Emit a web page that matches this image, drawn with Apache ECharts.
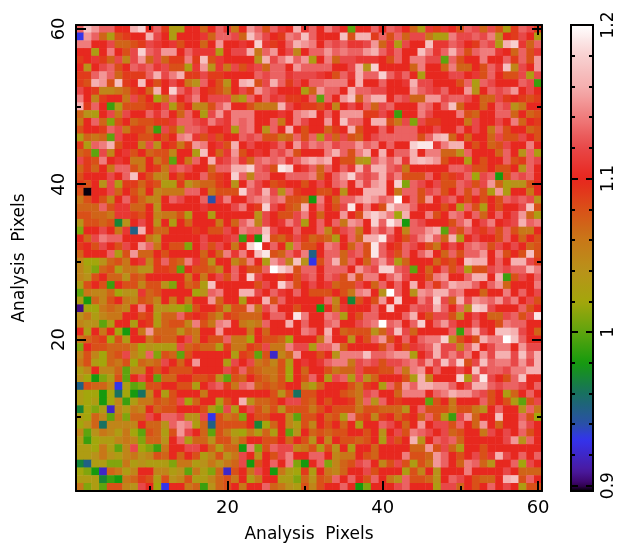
<!DOCTYPE html>
<html><head><meta charset="utf-8">
<style>html,body{margin:0;padding:0;background:#fff}#c{width:618px;height:546px}</style>
<script src="https://cdn.jsdelivr.net/npm/echarts@6/dist/echarts.min.js"></script>
</head><body><div id="c"></div>
<script>
const title = "Analysis  Pixels";
const barMin = 0.8965, barMax = 1.2;
const barLabels = [0.9, 1, 1.1, 1.2];
const barMinor = [0.92,0.94,0.96,0.98,1.02,1.04,1.06,1.08,1.12,1.14,1.16,1.18];
const stopValues = [0.8965,0.90,0.91,0.93,0.94,0.96,0.98,1.0,1.02,1.04,1.06,1.08,1.10,1.12,1.14,1.16,1.18,1.2];
const stopColors = [[0,0,0],[58,0,96],[74,26,160],[51,51,238],[42,80,168],[24,112,96],[22,154,14],[94,164,14],[164,166,12],[185,146,26],[200,120,24],[217,80,24],[232,38,30],[232,72,72],[239,124,124],[245,176,176],[248,208,208],[255,255,255]];
// rows run from pixel row 60 (top) to pixel row 1 (bottom); values are in hundredths
const rows = [
[113,117,115,113,113,110,110,116,118,110, 113,109,103,103,110,110,107,110,113,111, 106,110,115,113,108,113,111,110,116,111, 113,110,114,112,110,100,110,110,113,110, 113,112,110,107,103,111,109,111,110,108, 113,112,107,112,108,103,109,113,112,109],
[93,115,113,107,103,108,109,110,110,116, 112,110,103,110,110,110,111,107,113,113, 112,107,117,114,112,110,109,114,113,117, 113,110,110,110,117,108,116,116,109,113, 108,113,107,112,112,106,103,103,114,112, 112,113,112,114,104,110,109,112,110,103],
[114,114,110,110,112,107,107,108,109,112, 111,110,111,108,110,110,107,110,115,110, 110,111,110,118,111,109,110,113,116,115, 114,110,113,112,113,111,111,112,115,107, 111,103,112,110,110,117,111,111,113,112, 110,109,113,112,103,116,118,111,107,113],
[110,110,103,110,114,110,108,112,118,113, 112,115,115,110,113,111,111,111,103,110, 112,112,116,106,113,115,110,112,105,110, 113,113,115,113,114,113,113,115,116,113, 111,113,110,110,117,114,111,113,116,113, 108,113,114,114,111,110,107,113,108,111],
[109,110,111,109,107,112,105,112,115,107, 112,107,109,109,114,109,117,108,111,110, 110,110,110,104,116,112,114,116,113,115, 103,110,114,107,112,112,111,111,111,110, 108,113,110,114,114,112,112,100,113,108, 110,110,114,110,110,113,109,113,108,115],
[110,104,110,112,113,108,110,113,112,113, 111,112,108,108,103,111,115,104,111,106, 112,108,111,112,107,113,113,110,115,113, 113,113,113,110,110,112,116,104,118,110, 110,110,110,107,114,110,110,107,114,107, 107,110,108,113,111,117,105,112,110,115],
[109,109,113,115,113,107,109,109,109,113, 116,112,114,116,109,109,112,109,109,110, 110,110,110,113,112,113,113,111,112,112, 112,111,110,108,113,111,116,113,113,118, 113,111,113,110,103,110,110,110,112,112, 110,111,108,113,110,108,108,112,103,112],
[109,108,116,115,108,117,109,110,117,110, 108,110,112,110,106,104,113,110,108,104, 110,116,117,108,112,116,113,109,112,110, 113,113,114,114,114,110,116,110,110,113, 110,110,111,116,112,112,110,110,110,108, 113,103,113,112,110,110,110,113,112,99],
[112,110,109,105,105,106,107,109,110,107, 116,110,118,113,111,113,110,109,108,106, 110,112,109,115,113,112,110,110,110,103, 107,115,113,113,110,116,113,113,112,112, 110,110,110,115,113,112,111,113,110,110, 115,104,110,113,112,113,115,110,112,110],
[114,110,105,109,110,110,106,112,108,110, 102,106,113,110,112,114,110,112,112,112, 105,103,113,110,113,111,112,109,109,110, 113,100,113,110,115,117,107,114,116,116, 110,113,112,107,107,115,115,112,113,113, 112,110,107,107,112,109,110,109,108,109],
[116,109,113,110,99,103,108,108,108,109, 110,112,103,108,110,105,105,108,113,115, 110,110,108,106,106,106,116,112,110,109, 109,108,110,105,110,112,110,113,107,112, 113,110,110,110,114,113,110,113,117,107, 110,110,107,110,113,112,104,106,110,110],
[107,104,103,110,112,106,112,110,110,113, 111,113,110,107,113,110,103,112,115,111, 114,114,114,110,110,110,111,110,114,115, 116,110,113,110,115,115,115,109,109,112, 110,99,110,110,114,112,110,110,110,114, 108,107,110,110,113,113,107,110,107,108],
[106,110,113,107,101,108,110,107,108,108, 109,109,111,113,113,112,111,114,112,111, 114,113,114,110,110,113,106,110,114,112, 110,110,115,110,117,113,113,110,116,116, 108,106,112,101,112,109,109,110,110,110, 106,112,110,110,112,110,114,107,110,109],
[108,110,110,109,113,112,106,109,109,107, 99,112,108,104,113,113,112,110,110,111, 103,113,114,110,104,113,110,116,110,108, 110,110,107,109,110,116,108,110,110,113, 110,113,113,113,110,110,112,110,110,113, 110,112,110,106,113,108,110,110,107,108],
[103,107,106,107,100,112,110,110,108,108, 110,108,110,114,115,111,108,111,108,110, 110,113,112,113,108,108,106,107,113,108, 113,103,112,107,112,108,107,110,112,113, 113,113,113,113,108,113,116,117,107,110, 107,110,110,107,112,108,108,112,110,108],
[109,103,113,114,116,108,110,110,105,112, 104,110,109,106,109,115,114,110,111,108, 116,110,112,110,110,111,113,110,115,112, 114,113,114,112,113,113,115,113,114,110, 113,110,110,118,119,119,111,114,116,116, 110,108,110,107,108,112,110,110,114,110],
[107,108,100,112,105,110,111,108,110,107, 108,108,105,110,110,103,117,110,107,111, 115,108,110,111,110,113,112,114,108,110, 110,110,114,116,113,108,114,116,110,116, 110,113,113,116,110,114,114,107,107,104, 113,110,110,110,107,113,110,104,113,103],
[112,109,108,114,110,111,110,106,106,110, 106,108,100,110,106,113,110,116,111,112, 114,111,107,113,114,113,114,111,113,115, 116,115,116,110,108,108,104,103,113,115, 113,115,111,116,117,116,115,108,110,110, 103,110,108,110,110,113,108,109,113,112],
[107,109,107,110,106,113,113,108,106,110, 109,106,112,113,112,110,110,107,113,113, 116,116,118,113,112,108,119,118,110,111, 113,107,113,110,113,111,116,112,116,116, 113,112,106,110,110,110,110,110,113,113, 112,108,108,110,108,108,110,104,113,110],
[108,110,110,110,112,110,113,117,110,108, 105,105,110,108,110,110,113,108,109,110, 118,113,105,113,113,110,110,113,113,113, 114,107,110,113,115,118,113,112,113,116, 112,114,108,108,108,113,110,108,109,111, 113,102,112,113,98,108,113,112,113,110],
[109,108,110,104,112,103,109,109,107,109, 108,103,103,109,104,106,107,107,109,110, 104,110,114,112,110,108,109,110,110,108, 110,112,110,113,114,110,115,112,115,116, 110,118,101,113,112,110,112,108,108,113, 112,108,112,115,107,103,104,104,108,110],
[108,89.7,110,110,112,107,110,108,106,110, 105,106,106,106,113,113,110,106,108,108, 108,118,113,112,116,112,104,113,109,110, 110,108,108,110,104,110,110,116,116,116, 110,106,113,113,108,112,113,108,110,113, 108,113,108,103,115,103,110,110,106,110],
[106,108,110,108,105,110,113,109,107,105, 105,110,113,112,110,110,113,94,111,114, 110,110,113,114,115,113,114,108,108,107, 98,114,110,107,113,113,115,116,115,113, 114,120,110,113,108,115,110,112,113,110, 108,110,108,110,108,113,112,113,112,104],
[107,107,107,113,108,111,111,107,107,110, 104,110,110,110,110,110,111,110,110,110, 112,114,110,109,118,112,110,108,107,116, 110,113,110,108,112,119,110,114,110,108, 118,115,115,113,110,110,110,108,110,103, 113,108,103,110,108,110,110,112,117,108],
[108,108,107,107,106,111,111,109,108,110, 105,106,106,108,103,110,110,103,110,110, 110,110,110,104,112,110,108,108,112,114, 110,107,110,110,115,110,108,116,118,116, 114,102,116,110,110,114,108,110,114,113, 110,113,107,110,113,110,112,115,107,103],
[104,108,108,107,108,97,104,110,112,110, 104,110,103,110,107,110,110,110,106,110, 107,113,115,105,112,110,111,114,112,103, 110,113,110,113,106,115,114,110,118,113, 119,116,98,113,112,110,110,110,108,113, 115,110,112,114,110,111,112,116,113,114],
[101,110,110,112,110,106,111,95,116,110, 107,107,110,110,110,109,110,108,108,112, 110,114,113,113,117,112,110,110,113,110, 110,113,105,109,112,113,106,110,114,112, 114,110,105,113,113,115,116,100,112,108, 113,111,109,112,108,113,108,106,106,110],
[110,107,112,114,113,113,110,110,110,106, 104,110,110,110,110,110,112,110,110,111, 112,99,110,98,118,108,107,109,112,109, 107,108,107,103,110,113,107,116,116,119, 112,110,108,112,114,116,113,107,116,103, 110,112,110,110,108,113,110,107,110,108],
[109,110,108,112,110,108,112,110,115,113, 106,110,108,108,101,110,112,108,112,110, 106,110,118,120,110,113,110,103,113,108, 108,110,114,113,110,107,113,108,119,113, 110,109,113,112,110,108,106,110,112,110, 113,114,113,108,112,110,112,110,107,108],
[107,110,110,110,113,103,108,115,107,107, 110,108,110,110,110,110,107,110,107,114, 111,114,110,117,119,108,107,113,111,114, 95,110,113,113,107,112,113,108,119,113, 111,108,113,110,113,115,110,107,113,108, 113,113,115,110,114,108,110,108,117,108],
[105,102,102,104,107,108,106,110,111,105, 109,113,108,107,114,111,108,104,110,110, 105,107,114,110,103,115,113,105,117,104, 93,108,113,116,107,113,110,107,113,115, 112,103,107,110,110,110,107,109,108,110, 117,116,116,110,113,110,116,116,112,109],
[105,103,101,107,108,103,106,106,104,104, 109,109,108,100,110,108,108,107,105,110, 113,110,108,108,113,120,118,116,108,113, 113,110,113,113,113,110,115,113,112,118, 118,113,112,100,110,107,110,113,108,112, 103,108,108,112,113,112,113,113,116,114],
[105,104,108,110,107,107,104,108,107,110, 110,110,110,110,106,110,106,110,112,108, 113,110,118,112,110,110,109,110,108,112, 113,110,113,112,108,115,108,114,114,110, 113,115,112,110,110,108,114,115,110,110, 113,116,116,110,116,99,108,112,110,113],
[103,108,110,108,99,110,108,108,105,108, 108,104,101,110,107,108,103,117,110,110, 110,110,110,108,112,110,118,114,108,110, 112,110,111,107,108,108,112,110,107,113, 110,113,110,116,110,113,109,113,116,115, 115,113,110,113,115,107,110,110,110,114],
[100,106,105,105,107,102,104,104,111,107, 108,110,110,110,110,102,104,113,114,110, 110,116,116,112,110,113,111,110,113,110, 108,108,108,110,108,106,114,115,110,104, 120,113,110,104,115,114,116,116,113,114, 110,110,107,110,110,114,110,113,110,112],
[103,98,107,105,108,110,106,105,108,107, 105,110,106,110,106,110,110,115,107,110, 110,103,110,110,116,108,113,110,110,110, 110,110,113,105,110,97,108,110,108,115, 110,118,110,110,114,112,118,112,107,116, 112,115,114,113,115,112,114,110,112,108],
[90.5,102,102,106,107,106,105,110,114,110, 104,104,103,102,101,108,110,110,108,104, 108,108,115,106,112,114,110,110,108,110, 110,98,110,106,111,110,110,110,113,110, 118,110,110,113,112,112,116,113,110,113, 104,118,117,112,110,110,110,113,108,110],
[104,106,103,105,106,106,110,110,108,109, 103,107,107,113,109,110,109,107,105,109, 108,107,107,107,110,113,113,110,119,114, 110,110,114,113,103,110,108,113,113,110, 110,110,113,116,110,108,112,112,108,104, 110,112,110,107,107,112,113,108,112,119],
[105,104,104,100,103,110,110,103,110,109, 103,107,108,108,105,114,108,106,114,115, 110,106,105,106,113,110,110,116,110,113, 110,110,113,114,110,110,112,113,114,120, 113,114,110,113,118,110,113,115,112,110, 110,113,110,110,108,114,113,113,110,110],
[110,103,110,106,110,102,98,110,106,115, 107,107,107,104,107,106,110,110,115,110, 110,110,106,110,107,110,110,110,110,114, 113,110,116,110,107,108,108,108,104,107, 112,117,112,107,110,110,110,110,113,99, 113,116,112,110,117,117,116,112,110,107],
[106,107,108,109,102,108,103,110,110,106, 108,107,107,110,112,106,110,108,108,113, 106,106,102,110,108,108,107,102,110,110, 110,106,115,110,110,104,110,108,113,115, 108,110,113,110,113,114,114,118,104,108, 110,108,116,114,114,120,117,113,110,110],
[101,110,108,108,107,107,107,106,102,104, 103,103,103,112,107,108,107,107,103,109, 106,106,109,108,112,106,106,114,112,112, 103,113,113,115,107,110,110,110,110,108, 113,110,108,111,112,113,116,112,112,105, 113,116,110,112,114,114,110,115,112,112],
[105,108,105,102,107,108,112,105,103,113, 101,108,107,100,108,110,110,110,110,110, 103,109,108,100,108,92,105,107,115,110, 110,108,110,104,114,114,114,117,113,113, 114,115,115,103,110,112,116,112,114,112, 114,110,115,112,116,116,112,117,113,116],
[106,108,103,102,107,106,108,102,107,106, 107,112,110,107,110,115,110,110,110,103, 112,110,112,106,107,105,108,103,110,111, 110,111,113,114,114,106,112,113,112,108, 112,112,113,114,112,115,112,117,113,118, 108,112,117,113,114,114,112,115,112,116],
[103,105,110,105,105,107,100,105,105,110, 108,110,108,108,108,110,110,110,110,112, 109,113,108,107,106,106,108,102,110,107, 110,110,108,106,107,107,112,109,109,108, 108,113,106,114,115,110,113,110,110,112, 110,117,112,113,113,112,114,114,116,116],
[104,102,98,101,103,108,100,110,112,110, 100,107,107,110,110,108,108,109,104,100, 108,107,110,108,107,106,108,102,110,108, 113,110,103,112,113,103,112,104,107,110, 110,110,108,103,116,105,110,110,110,118, 103,113,119,112,110,108,113,117,110,110],
[95,108,107,107,105,93,103,100,101,108, 108,110,110,108,108,103,110,112,113,109, 106,113,114,107,108,107,108,110,110,105, 103,107,110,110,110,108,106,109,110,103, 113,108,115,113,116,116,115,115,113,110, 112,116,116,113,112,113,113,112,110,113],
[103,102,102,98,102,96,102,98,96,105, 110,103,108,110,110,110,106,110,110,110, 110,110,110,110,110,108,104,108,96,108, 108,110,110,110,108,107,106,112,113,110, 110,107,114,114,114,110,113,114,116,115, 115,113,112,108,110,103,107,110,113,110],
[103,102,103,98,102,105,99,103,106,106, 108,107,108,112,102,107,110,110,103,108, 110,116,104,107,107,108,110,112,112,108, 107,110,108,110,110,109,106,113,104,113, 110,109,110,110,110,100,108,110,106,110, 110,110,113,108,110,108,103,100,108,112],
[97,102,101,103,92,105,103,106,105,110, 107,108,108,110,110,110,108,103,101,112, 103,110,112,108,106,108,104,108,108,108, 106,108,110,108,108,108,106,108,108,107, 107,107,104,110,113,108,108,108,106,108, 108,106,104,110,113,110,110,104,113,106],
[103,102,107,105,100,106,101,107,107,112, 110,113,113,112,104,104,112,93,108,106, 107,101,110,108,108,110,110,105,100,108, 108,110,107,108,103,114,108,109,105,109, 110,107,109,110,107,113,108,103,99,112, 115,107,110,110,117,110,110,113,108,102],
[102,104,107,96,105,105,105,105,110,107, 107,104,113,115,114,103,107,95,108,108, 108,108,110,97,102,107,110,105,103,108, 105,110,108,110,107,110,103,110,110,113, 112,110,107,110,115,110,112,112,108,113, 110,107,115,110,107,110,110,114,112,110],
[105,100,104,106,105,103,106,102,100,108, 107,103,108,115,112,110,107,100,108,106, 103,102,106,103,107,103,110,100,104,110, 107,108,107,108,108,110,110,108,110,104, 110,112,108,114,113,112,110,112,107,108, 110,110,106,112,110,112,110,113,108,110],
[103,99,102,103,103,105,106,105,101,107, 107,104,110,113,103,107,107,104,108,108, 105,107,110,110,108,108,110,107,110,108, 104,110,105,110,108,108,107,108,110,103, 111,108,110,116,104,110,113,112,113,107, 110,110,110,110,110,112,115,104,113,110],
[103,103,102,106,103,100,105,112,102,101, 99,106,110,110,112,112,110,107,103,107, 107,98,114,101,108,113,112,112,105,106, 108,103,108,104,110,103,110,110,107,110, 110,110,110,107,107,115,108,112,107,103, 110,110,108,110,110,110,110,110,110,110],
[103,103,104,106,104,103,105,106,104,105, 108,107,110,107,110,108,103,105,108,104, 106,112,110,104,110,108,112,114,110,110, 113,113,110,105,106,106,110,108,107,110, 110,110,114,108,108,107,115,113,110,108, 110,112,108,111,116,112,110,113,110,113],
[97,95,103,103,101,101,106,103,104,103, 103,103,101,106,106,103,104,106,104,106, 107,112,98,108,110,113,110,114,101,98, 110,113,101,105,107,108,112,113,110,105, 108,112,108,103,108,106,115,113,110,107, 114,113,107,104,110,110,113,102,112,110],
[102,101,98,92,107,106,103,105,110,110, 105,105,103,104,100,106,103,101,107,92, 108,110,106,112,110,98,106,103,102,109, 103,110,106,105,107,110,110,112,108,110, 110,110,103,108,105,110,104,110,110,110, 114,110,110,110,110,112,110,107,107,107],
[103,103,103,97,99,98,106,107,109,108, 103,108,104,105,108,103,103,105,107,108, 106,110,103,106,110,110,103,103,101,107, 104,108,107,113,110,113,110,108,113,110, 106,104,113,108,108,107,104,110,113,112, 110,108,107,107,110,116,117,108,113,110],
[106,101,103,100,108,108,105,104,112,110, 102,93,110,110,106,107,99,104,107,108, 110,106,110,110,113,107,106,104,103,108, 105,108,110,110,113,110,98,101,110,110, 110,112,113,110,110,110,103,112,112,107, 110,108,110,113,110,112,110,103,108,108]
];

const pixels = rows[0].map((_, i) => String(i + 1));
const cells = [];
rows.forEach((row, r) => row.forEach((v, c) => cells.push([c, rows.length - 1 - r, v / 100])));

function colorAt(v) {
  let i = 0;
  while (i < stopValues.length - 2 && v > stopValues[i + 1]) i++;
  const t = (v - stopValues[i]) / (stopValues[i + 1] - stopValues[i]);
  const m = stopColors[i].map((a, k) => Math.round(a + (stopColors[i + 1][k] - a) * t));
  return `rgb(${m.join(',')})`;
}
const palette = [];
for (let i = 0; i <= 120; i++) palette.push(colorAt(barMin + (barMax - barMin) * i / 120));

const font = 'DejaVu Sans';
const isMajor = i => (i + 1) % 20 === 0;
const isMinor = i => (i + 1) % 20 === 10;
const tickStyle = {color: '#000', width: 2};
function catAxis(position, major, extra) {
  return Object.assign({
    type: 'category', data: pixels, position, z: 6, gridIndex: 0, boundaryGap: true,
    axisLine: {show: major, onZero: false, lineStyle: {color: '#000', width: 2}},
    axisTick: {show: true, inside: true, alignWithLabel: true, interval: major ? i => isMajor(i) : i => isMinor(i), length: major ? 10 : 5, lineStyle: tickStyle},
    axisLabel: {show: false}, splitLine: {show: false}
  }, extra || {});
}
const catLabel = (rotate) => ({show: true, interval: i => isMajor(i), color: '#000', fontFamily: font, fontSize: 18, rotate, margin: 8, hideOverlap: false});
const nameStyle = {color: '#000', fontFamily: font, fontSize: 17};

function barY(position, major, labelled) {
  return {
    type: 'value', gridIndex: 1, position, min: barMin, max: barMax, z: 6, scale: true,
    axisLine: {show: true, onZero: false, lineStyle: {color: '#000', width: 2}},
    axisTick: {show: true, inside: true, length: major ? 7 : 4, lineStyle: tickStyle, customValues: major ? barLabels : barMinor},
    axisLabel: labelled ? {show: true, customValues: barLabels, color: '#000', fontFamily: font, fontSize: 17, rotate: 90, margin: 7, formatter: v => String(v)} : {show: false},
    splitLine: {show: false}
  };
}
function barX(position) {
  return {type: 'value', gridIndex: 1, position, min: 0, max: 1, z: 6,
    axisLine: {show: true, onZero: false, lineStyle: {color: '#000', width: 2}},
    axisTick: {show: false}, axisLabel: {show: false}, splitLine: {show: false}};
}

const chart = echarts.init(document.getElementById('c'), null, {renderer: 'canvas'});
chart.setOption({
  animation: false,
  backgroundColor: '#fff',
  grid: [
    {left: 76, top: 25, width: 466, height: 466, outerBoundsMode: 'none'},
    {left: 571, top: 25, width: 22, height: 466, outerBoundsMode: 'none'}
  ],
  xAxis: [
    catAxis('bottom', true, {axisLabel: catLabel(0), name: title, nameLocation: 'middle', nameGap: 35, nameTextStyle: nameStyle}),
    catAxis('bottom', false),
    catAxis('top', true),
    catAxis('top', false),
    barX('bottom'), barX('top')
  ],
  yAxis: [
    catAxis('left', true, {axisLabel: catLabel(90), name: title, nameLocation: 'middle', nameGap: 48, nameTextStyle: nameStyle}),
    catAxis('left', false),
    catAxis('right', true),
    catAxis('right', false),
    barY('left', true, false), barY('left', false, false),
    barY('right', true, true), barY('right', false, false)
  ],
  visualMap: {
    type: 'continuous', min: barMin, max: barMax, seriesIndex: 0, calculable: false, realtime: false,
    left: 571, top: 25, itemWidth: 22, itemHeight: 466, padding: 0, text: null, showLabel: false, hoverLink: false,
    inRange: {color: palette}
  },
  series: [{
    type: 'heatmap', xAxisIndex: 0, yAxisIndex: 0, data: cells, progressive: 0, silent: true,
    itemStyle: {borderWidth: 0}, emphasis: {disabled: true}
  }]
});
</script></body></html>
